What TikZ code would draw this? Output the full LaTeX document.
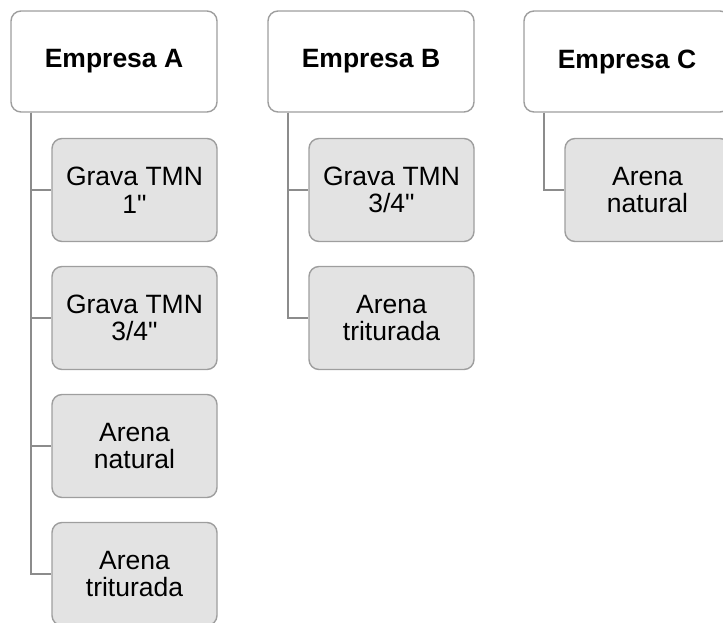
\documentclass[tikz,border=0pt]{standalone}
\usepackage{fontspec}
\setmainfont{Liberation Sans}
\begin{document}
\begin{tikzpicture}[x=1pt,y=1pt,
  head/.style={draw=black!38, line width=1.4pt, fill=white, rounded corners=10pt,
    minimum width=206pt, minimum height=101pt, inner sep=0pt,
    font=\fontsize{26.5}{28}\selectfont\bfseries, align=center},
  item/.style={draw=black!38, line width=1.4pt, fill=black!11, rounded corners=10pt,
    minimum width=165pt, minimum height=103pt, inner sep=0pt,
    font=\fontsize{26.5}{27.5}\selectfont, align=center},
  conn/.style={draw=black!45, line width=2pt}]
\useasboundingbox (0,0) rectangle (723,-623);
% Empresa A
\node[head] (A) at (114,-61.5) {Empresa A};
\node[item] (a1) at (134.5,-190) {Grava TMN\\1\textquotedbl};
\node[item] (a2) at (134.5,-318) {Grava TMN\\3/4\textquotedbl};
\node[item] (a3) at (134.5,-446) {Arena\\natural};
\node[item] (a4) at (134.5,-574) {Arena\\triturada};
% Empresa B
\node[head] (B) at (371,-61.5) {Empresa B};
\node[item] (b1) at (391.5,-190) {Grava TMN\\3/4\textquotedbl};
\node[item] (b2) at (391.5,-318) {Arena\\triturada};
% Empresa C
\node[head] (C) at (627,-61.5) {Empresa C};
\node[item] (c1) at (647.5,-190) {Arena\\natural};
% connectors
\foreach \p/\c in {A/a1,A/a2,A/a3,A/a4,B/b1,B/b2,C/c1}
  \draw[conn] ([xshift=21pt]\p.south west) |- (\c.west);
\end{tikzpicture}
\end{document}
